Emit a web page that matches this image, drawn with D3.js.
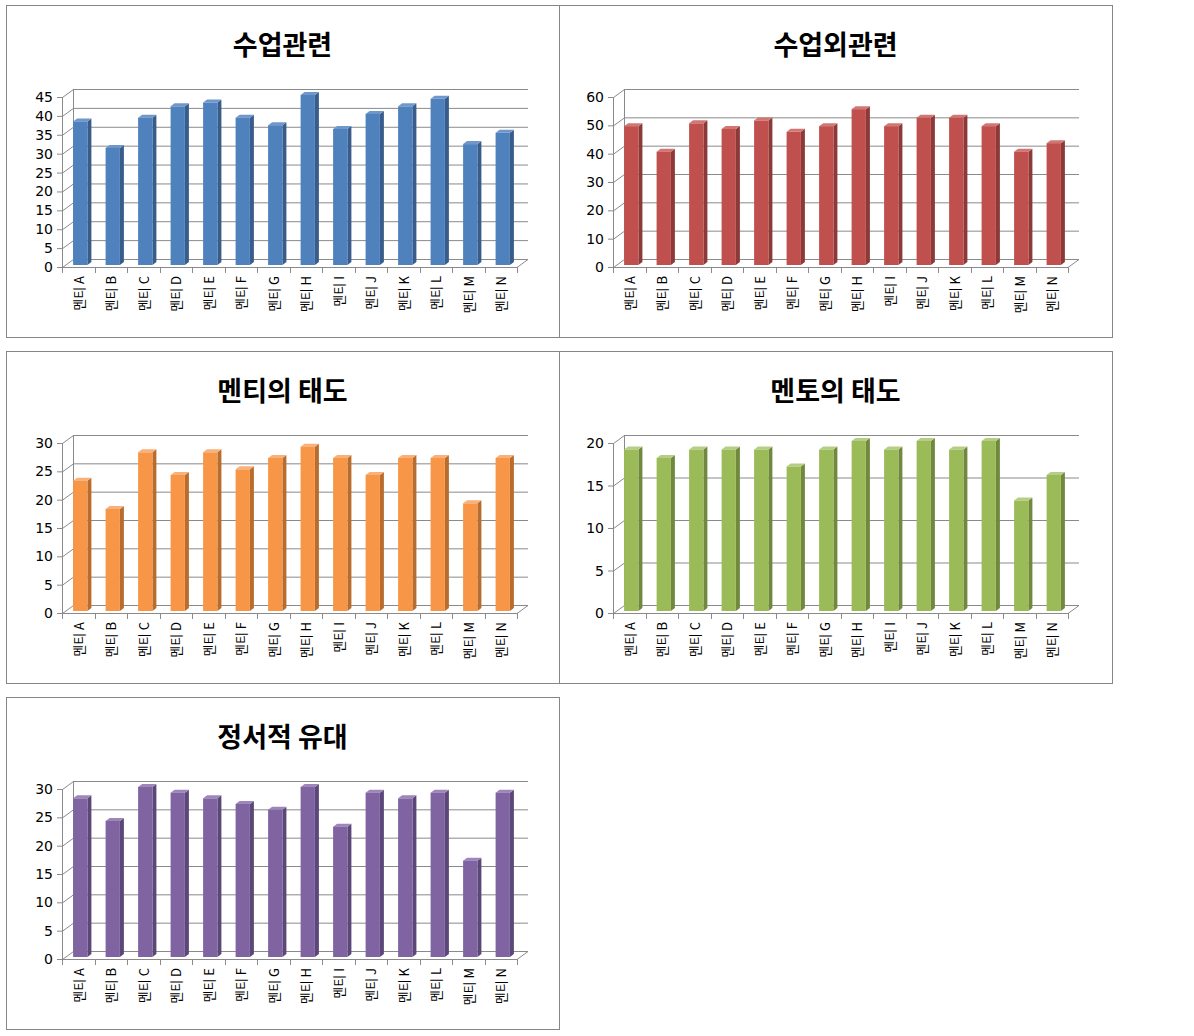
<!DOCTYPE html>
<html><head><meta charset="utf-8">
<script src="https://cdn.jsdelivr.net/npm/d3@7/dist/d3.min.js"></script>
<style>
html,body{margin:0;padding:0;background:#fff;}
svg{display:block;}
</style></head>
<body><svg id="c" width="1194" height="1036"></svg>
<script>
const categories = ["멘티 A","멘티 B","멘티 C","멘티 D","멘티 E","멘티 F","멘티 G","멘티 H","멘티 I","멘티 J","멘티 K","멘티 L","멘티 M","멘티 N"];
const titles = ["수업관련","수업외관련","멘티의 태도","멘토의 태도","정서적 유대"];
const classRelated   = [38,31,39,42,43,39,37,45,36,40,42,44,32,35];
const outsideClass   = [49,40,50,48,51,47,49,55,49,52,52,49,40,43];
const menteeAttitude = [23,18,28,24,28,25,27,29,27,24,27,27,19,27];
const mentorAttitude = [19,18,19,19,19,17,19,20,19,20,19,20,13,16];
const emotionalBond  = [28,24,30,29,28,27,26,30,23,29,28,29,17,29];
const yMaxes = [45,60,30,20,30];
const yTicks = [
  [0,5,10,15,20,25,30,35,40,45],
  [0,10,20,30,40,50,60],
  [0,5,10,15,20,25,30],
  [0,5,10,15,20],
  [0,5,10,15,20,25,30]
];
const series = [classRelated, outsideClass, menteeAttitude, mentorAttitude, emotionalBond];
const palette = [
  {front:"#4F81BD", side:"#385D8A", top:"#7097CC"},
  {front:"#C0504D", side:"#8C3A38", top:"#D27674"},
  {front:"#F79646", side:"#B86D2F", top:"#F9B079"},
  {front:"#9BBB59", side:"#71893F", top:"#B5CE85"},
  {front:"#8064A2", side:"#5C4878", top:"#9D86BA"}
];

const panels = [
  {x:6,   y:5,   ax:56},
  {x:559, y:5,   ax:54},
  {x:6,   y:351, ax:56},
  {x:559, y:351, ax:54},
  {x:6,   y:697, ax:56}
];
const PW = 553, PH = 332;
const svg = d3.select("#c");
const gridColor = "#8a8a8a";
const dx = 11, dy = -8;

panels.forEach((p, i) => {
  const g = svg.append("g").attr("transform", `translate(${p.x},${p.y})`);
  g.append("rect").attr("x",0.5).attr("y",0.5).attr("width",PW).attr("height",PH)
    .attr("fill","#fff").attr("stroke","#868686").attr("stroke-width",1);

  g.append("text").attr("x", PW/2).attr("y", 50).attr("text-anchor","middle")
    .attr("font-family","'Noto Sans CJK KR', sans-serif").attr("font-weight","bold")
    .attr("font-size",27).attr("fill","#000").text(titles[i]);

  const x0 = p.ax, x1 = p.ax + 455;
  const x = d3.scaleBand().domain(categories).range([x0, x1]);
  const y = d3.scaleLinear().domain([0, yMaxes[i]]).range([262, 92]);
  const ticks = yTicks[i];

  const grid = g.append("g").attr("stroke", gridColor).attr("stroke-width",1).attr("fill","none");
  grid.selectAll("line.h").data(ticks).join("line").attr("class","h")
    .attr("x1", x0+dx).attr("x2", x1+dx)
    .attr("y1", d => y(d)+dy+0.5).attr("y2", d => y(d)+dy+0.5);
  grid.selectAll("line.d").data(ticks).join("line").attr("class","d")
    .attr("x1", x0+0.5).attr("y1", d => y(d)+0.5)
    .attr("x2", x0+dx+0.5).attr("y2", d => y(d)+dy+0.5);
  grid.append("line").attr("x1", x0+dx+0.5).attr("x2", x0+dx+0.5)
    .attr("y1", y(0)+dy).attr("y2", y(yMaxes[i])+dy);
  grid.append("line").attr("x1", x1).attr("y1", y(0)+0.5).attr("x2", x1+dx).attr("y2", y(0)+dy+0.5);

  const ax = g.append("g").attr("stroke", gridColor).attr("stroke-width",1);
  ax.append("line").attr("x1", x0+0.5).attr("x2", x0+0.5).attr("y1", y(0)).attr("y2", y(yMaxes[i]));
  ax.append("line").attr("x1", x0).attr("x2", x1).attr("y1", y(0)+0.5).attr("y2", y(0)+0.5);
  ax.selectAll("line.yt").data(ticks).join("line").attr("class","yt")
    .attr("x1", x0-5).attr("x2", x0).attr("y1", d => y(d)+0.5).attr("y2", d => y(d)+0.5);
  const bounds = categories.map(c => x(c)).concat([x1]);
  ax.selectAll("line.xt").data(bounds).join("line").attr("class","xt")
    .attr("x1", d => Math.round(d)+0.5).attr("x2", d => Math.round(d)+0.5)
    .attr("y1", y(0)).attr("y2", y(0)+6);

  g.selectAll("text.yl").data(ticks).join("text").attr("class","yl")
    .attr("x", x0-9).attr("y", d => y(d)).attr("dy","0.36em")
    .attr("text-anchor","end").attr("font-family","'DejaVu Sans', Verdana, sans-serif")
    .attr("font-size",14).attr("fill","#000").text(d => d);

  const bw = x.bandwidth();
  const fw = bw*0.44, sx = 4, sy = -3, bx = 2, by = -2;
  const bars = g.selectAll("g.bar").data(series[i]).join("g").attr("class","bar");
  bars.each(function(v, k){
    const gb = d3.select(this);
    const left = x(categories[k]) + bw*0.28 + bx;
    const right = left + fw;
    const top = y(v) + by, bot = y(0) + by;
    gb.append("polygon").attr("fill", palette[i].side)
      .attr("points", [[right,bot],[right+sx,bot+sy],[right+sx,top+sy],[right,top]].join(" "));
    gb.append("polygon").attr("fill", palette[i].top)
      .attr("points", [[left,top],[left+sx,top+sy],[right+sx,top+sy],[right,top]].join(" "));
    gb.append("rect").attr("x", left).attr("y", top).attr("width", fw).attr("height", bot-top)
      .attr("fill", palette[i].front);
  });

  g.selectAll("text.xl").data(categories).join("text").attr("class","xl")
    .attr("transform", c => `translate(${x(c)+bw/2+1},${y(0)+9}) rotate(-90)`)
    .attr("text-anchor","end").attr("dy","0.35em")
    .attr("font-family","'Noto Sans CJK KR', sans-serif").attr("font-size",13)
    .attr("fill","#000").text(c => c);
});
</script></body></html>
